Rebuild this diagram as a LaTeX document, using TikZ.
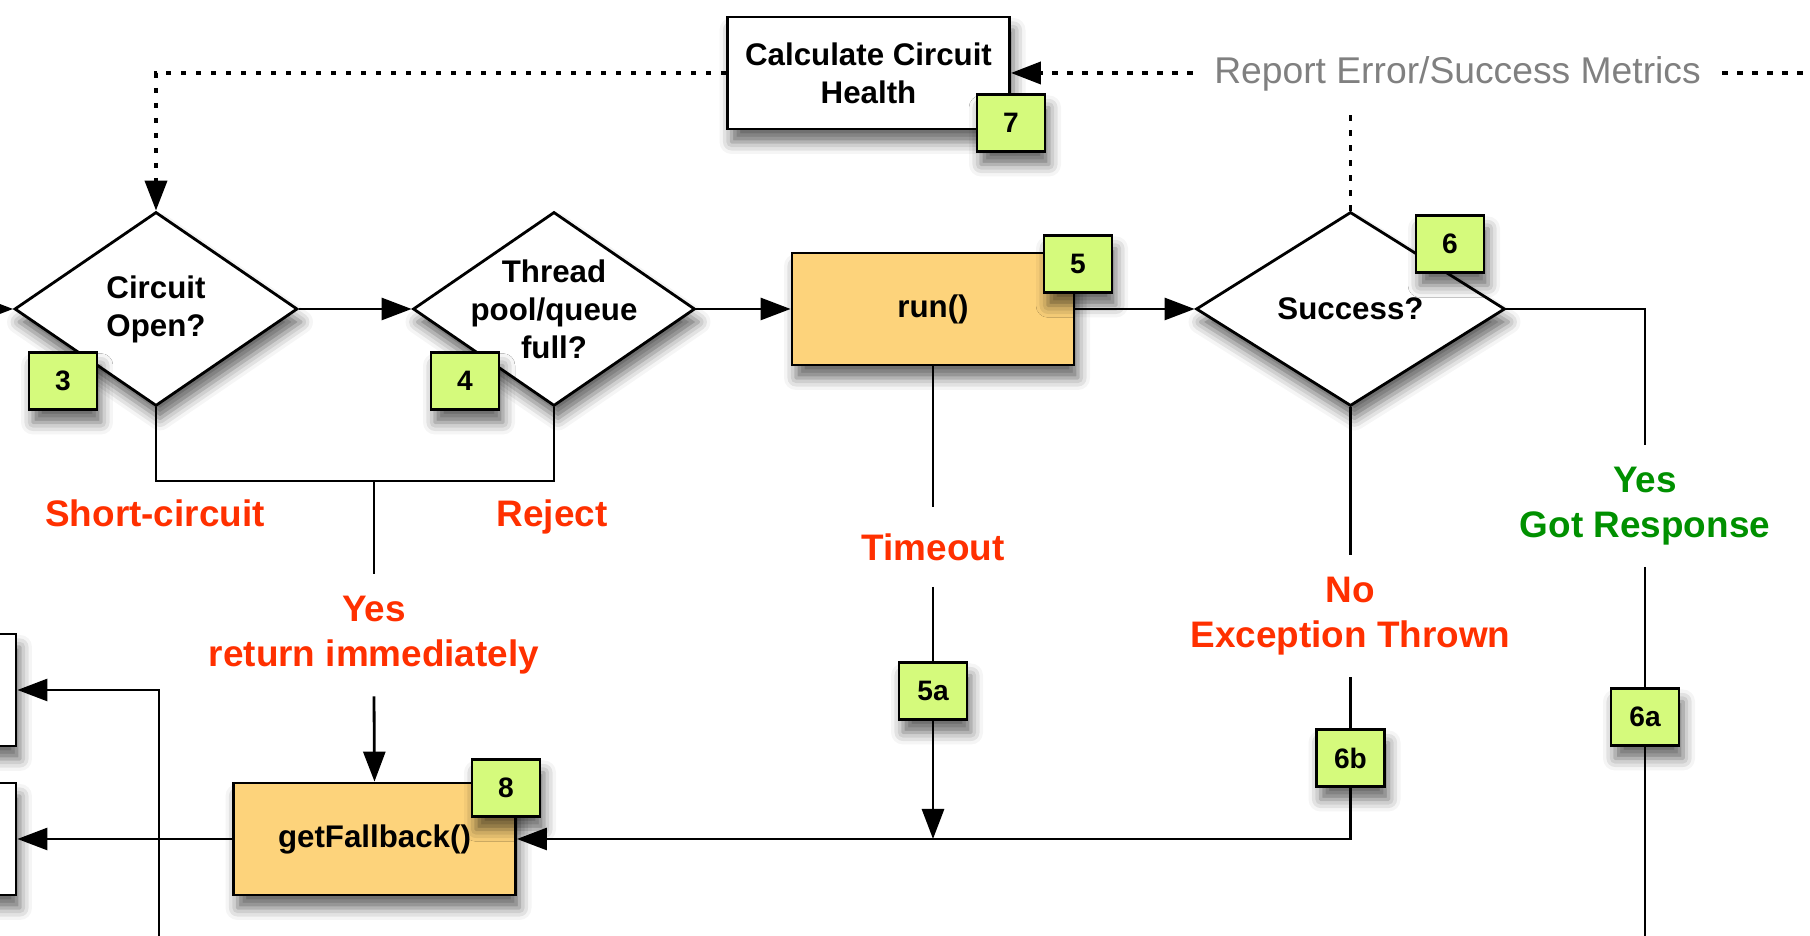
\documentclass[tikz,border=0pt]{standalone}
\usepackage{fontspec}
\setmainfont{Liberation Sans}
\usetikzlibrary{arrows.meta}
\usetikzlibrary{shapes.geometric}
\usetikzlibrary{shadows.blur}
\definecolor{runorange}{HTML}{FDD37B}
\definecolor{badgelime}{HTML}{D5FA7C}
\definecolor{failred}{HTML}{FF3000}
\definecolor{okgreen}{HTML}{009000}
\definecolor{metricgray}{HTML}{808080}
\newcommand{\lblfont}{\fontsize{8.9pt}{10.8pt}\selectfont\bfseries}
\newcommand{\badgefont}{\fontsize{8pt}{9pt}\selectfont\bfseries}
\newcommand{\redfont}{\fontsize{10.5pt}{12.7pt}\selectfont\bfseries}
\newcommand{\metricfont}{\fontsize{10.6pt}{12pt}\selectfont}
\tikzset{tip/.style = {-{Triangle[length=0.3cm,width=0.22cm]}}}
\tikzset{dotline/.style = {line width=1.1pt, dash pattern=on 0.055cm off 0.095cm}}
\tikzset{softshadow/.style = {blur shadow={shadow xshift=0.04cm, shadow yshift=-0.13cm,
                                           shadow blur radius=0.12cm, shadow opacity=60}}}
\tikzset{procbox/.style = {draw, fill=white, minimum width=2.82cm, minimum height=1.12cm,
                           inner sep=0pt, align=center, font=\lblfont, softshadow}}
\tikzset{proc/.style = {procbox, fill=runorange}}
\tikzset{decision/.style = {diamond, draw, fill=white, inner sep=0pt, minimum width=2.83cm,
                            minimum height=1.94cm, softshadow}}
\tikzset{badge/.style = {draw, fill=badgelime, minimum width=0.68cm, minimum height=0.57cm,
                         inner sep=0pt, font=\badgefont, softshadow}}
\tikzset{redlbl/.style = {text=failred, font=\redfont, align=center, inner sep=0pt}}
\tikzset{greenlbl/.style = {redlbl, text=okgreen}}
\begin{document}
\begin{tikzpicture}[line width=0.8pt]
	\useasboundingbox (0,0) rectangle (18.1,9.36);
	\clip (0,0) rectangle (18.1,9.36);
	\node[procbox] (calc) at (8.685,8.63) {Calculate Circuit\\Health};
	\node[badge] (b7) at (10.11,8.13) {7};
	\node[decision, label={[font=\lblfont, align=center]center:Circuit\\Open?}] (d1) at (1.56,6.27) {};
	\node[badge] (b3) at (0.63,5.55) {3};
	\node[decision, minimum width=2.82cm, label={[font=\lblfont, align=center]center:Thread\\pool/queue\\full?}] (d2) at (5.54,6.27) {};
	\node[badge] (b4) at (4.65,5.55) {4};
	\node[proc] (run) at (9.33,6.27) {run()};
	\node[badge] (b5) at (10.78,6.72) {5};
	\node[decision, minimum width=3.09cm, label={[font=\lblfont]center:Success?}] (succ) at (13.505,6.27) {};
	\node[badge] (b6) at (14.50,6.92) {6};
	\node[procbox] (lefttop) at (-1.25,2.46) {};
	\node[procbox] (leftbot) at (-1.25,0.97) {};
	\node[proc] (fb) at (3.745,0.97) {getFallback()};
	\node[badge] (b8) at (5.06,1.48) {8};
	\node[badge] (b5a) at (9.33,2.45) {5a};
	\node[badge] (b6b) at (13.505,1.78) {6b};
	\node[badge] (b6a) at (16.45,2.19) {6a};
	\node[font=\metricfont, text=metricgray, inner sep=0.2cm] (metrics) at (14.575,8.62) {Report Error/Success Metrics};
	\node[redlbl, anchor=base] (short) at (1.55,4.09) {Short-circuit};
	\node[redlbl, anchor=base] (reject) at (5.52,4.09) {Reject};
	\node[redlbl, minimum height=1.2cm] (yes) at (3.74,3.01) {Yes\\return immediately};
	\node[redlbl, minimum height=0.77cm] (tmo) at (9.33,3.89) {Timeout};
	\node[redlbl, minimum height=1.2cm] (no) at (13.505,3.2) {No\\Exception Thrown};
	\node[greenlbl, minimum height=1.19cm] (got) at (16.45,4.3) {Yes\\Got Response};
	\coordinate (rightend) at (18.5,8.63);
	\coordinate (succup) at (13.505,8.21);
	\coordinate (leftin) at (-0.5,6.27);
	\coordinate (join) at (3.74,4.55);
	\coordinate (gotdown) at (16.45,-0.3);
	\coordinate (loopdown) at (1.59,-0.3);
	\draw[dotline, tip] (calc.west) -| (d1.north);
	\draw[dotline, tip] (metrics.west |- calc.east) -- (calc.east);
	\draw[dotline] (metrics.east |- calc.east) -- (rightend);
	\draw[dotline] (succ.north) -- (succup);
	\draw[tip] (leftin) -- (d1.west);
	\draw[tip] (d1.east) -- (d2.west);
	\draw[tip] (d2.east) -- (run.west);
	\draw[tip] (run.east) -- (succ.west);
	\draw (d1.south) |- (join) -| (d2.south);
	\draw (join) -- (yes.north);
	\draw[tip] (yes.south) -- (fb.north);
	\draw (run.south) -- (tmo.north);
	\draw (tmo.south) -- (b5a.north);
	\draw[tip] (b5a.south) -- (b5a.south |- fb.east);
	\draw (succ.south) -- (no.north);
	\draw (no.south) -- (b6b.north);
	\draw[tip] (b6b.south) |- (fb.east);
	\draw (succ.east) -| (got.north);
	\draw (got.south) -- (b6a.north);
	\draw (b6a.south) -- (gotdown);
	\draw[tip] (fb.west) -- (leftbot.east);
	\draw[tip] (loopdown) |- (lefttop.east);
\end{tikzpicture}
\end{document}
